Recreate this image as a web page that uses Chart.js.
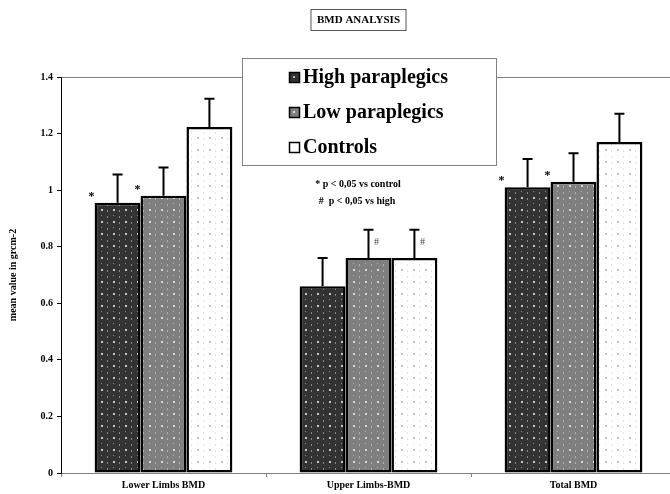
<!DOCTYPE html>
<html><head><meta charset="utf-8">
<script src="https://cdn.jsdelivr.net/npm/chart.js@4.4.1/dist/chart.umd.min.js"></script>
<style>html,body{margin:0;padding:0;background:#fff;overflow:hidden;width:670px;height:494px}#wrap{width:680px;height:494px}</style>
</head><body><div id="wrap"><canvas id="c" width="680" height="494"></canvas></div>
<script>
const categories = ['Lower Limbs BMD', 'Upper Limbs-BMD', 'Total BMD'];
const seriesNames = ['High paraplegics', 'Low paraplegics', 'Controls'];
const highValues = [0.955, 0.66, 1.01];
const lowValues = [0.98, 0.76, 1.03];
const controlValues = [1.223, 0.76, 1.17];
const highErrors = [0.10, 0.10, 0.10];
const lowErrors = [0.10, 0.10, 0.10];
const controlErrors = [0.10, 0.10, 0.10];
const highMarks = ['*', '', '*'];
const lowMarks = ['*', '#', '*'];
const controlMarks = ['', '#', ''];
const yTicks = [0, 0.2, 0.4, 0.6, 0.8, 1, 1.2, 1.4];
const titleText = 'BMD ANALYSIS';
const yTitle = 'mean value in grcm-2';
const noteLines = ['* p < 0,05 vs control', '#  p < 0,05 vs high'];

const SERIF = '"Liberation Serif", "DejaVu Serif", serif';

function makePattern(bg, dot, dash) {
  const c = document.createElement('canvas');
  c.width = 12; c.height = 12;
  const g = c.getContext('2d');
  g.fillStyle = bg; g.fillRect(0, 0, 12, 12);
  g.fillStyle = dot;
  g.fillRect(5, 5, 2, 2);
  g.fillStyle = dash;
  g.fillRect(11, 0, 1, 2);
  g.fillRect(11, 6, 1, 2);
  g.fillRect(5, 11, 1, 1);
  return g.createPattern(c, 'repeat');
}
const ctx0 = document.getElementById('c').getContext('2d');
const fills = [
  makePattern('#333333', '#c8c8c8', '#8a8a8a'),
  makePattern('#7f7f7f', '#d8d8d8', '#b0b0b0'),
  makePattern('#ffffff', '#c4c4c4', '#e4e4e4')
];
const swatchFills = ['#333333', '#808080', '#ffffff'];

const values = [highValues, lowValues, controlValues];
const errors = [highErrors, lowErrors, controlErrors];
const marks = [highMarks, lowMarks, controlMarks];

const extras = {
  id: 'extras',
  afterDatasetsDraw(chart) {
    const g = chart.ctx;
    const ys = chart.scales.y;
    g.save();
    chart.data.datasets.forEach((ds, di) => {
      const meta = chart.getDatasetMeta(di);
      meta.data.forEach((bar, i) => {
        const v = values[di][i];
        const top = ys.getPixelForValue(v + errors[di][i]);
        g.strokeStyle = '#000'; g.lineWidth = 2;
        g.beginPath();
        g.moveTo(bar.x, bar.y); g.lineTo(bar.x, top);
        g.moveTo(bar.x - 5, top); g.lineTo(bar.x + 5, top);
        g.stroke();
        const m = marks[di][i];
        if (m === '*') {
          g.fillStyle = '#000';
          g.font = 'bold 12px ' + SERIF;
          g.textAlign = 'center'; g.textBaseline = 'middle';
          g.fillText('*', bar.x - bar.width / 2 - 3, bar.y - 6);
        } else if (m === '#') {
          g.fillStyle = '#444';
          g.font = '10px ' + SERIF;
          g.textAlign = 'center'; g.textBaseline = 'middle';
          g.fillText('#', bar.x + 8, bar.y - 16);
        }
      });
    });
    g.restore();
  },
  afterDraw(chart) {
    const g = chart.ctx;
    g.save();
    g.font = 'bold 11px ' + SERIF;
    g.fillStyle = '#000';
    g.textAlign = 'center'; g.textBaseline = 'middle';
    const tw = g.measureText(titleText).width;
    g.strokeStyle = '#555'; g.lineWidth = 1;
    g.strokeRect(358.5 - tw / 2 - 6, 9.5, tw + 12, 21);
    g.fillText(titleText, 358.5, 20.5);
    g.save();
    g.translate(13, 275);
    g.rotate(-Math.PI / 2);
    g.font = 'bold 10px ' + SERIF;
    g.fillText(yTitle, 0, 0);
    g.restore();
    g.fillStyle = '#fff';
    g.fillRect(242, 58, 254, 107);
    g.strokeStyle = '#808080'; g.lineWidth = 1;
    g.strokeRect(242.5, 58.5, 254, 107);
    g.font = 'bold 20px ' + SERIF;
    g.textAlign = 'left'; g.textBaseline = 'middle';
    seriesNames.forEach((name, i) => {
      const y = 77 + i * 35;
      g.fillStyle = swatchFills[i];
      g.fillRect(289, y - 5, 11, 11);
      if (i < 2) {
        g.fillStyle = i === 0 ? '#bbb' : '#ddd';
        g.fillRect(293, y - 1, 2, 2);
      }
      g.strokeStyle = '#000'; g.lineWidth = 1.5;
      g.strokeRect(289.5, y - 4.5, 10, 10);
      g.fillStyle = '#000';
      g.fillText(name, 303, y + 1);
    });
    g.font = 'bold 10px ' + SERIF;
    g.textAlign = 'center';
    g.fillText(noteLines[0], 358, 184);
    g.fillText(noteLines[1], 357, 201);
    g.restore();
  }
};

new Chart(ctx0, {
  type: 'bar',
  data: {
    labels: categories,
    datasets: seriesNames.map((n, i) => ({
      label: n,
      data: values[i],
      backgroundColor: fills[i],
      borderColor: '#000',
      borderWidth: 2.5,
      borderSkipped: false,
      categoryPercentage: 0.672,
      barPercentage: 1.0
    }))
  },
  options: {
    responsive: false,
    animation: false,
    events: [],
    layout: { padding: { top: 77, left: 0, right: 4, bottom: 0 } },
    plugins: { legend: { display: false }, title: { display: false }, tooltip: { enabled: false } },
    scales: {
      x: {
        offset: true,
        grid: { offset: true, drawOnChartArea: false, tickLength: 4, color: '#808080', tickColor: '#808080' },
        border: { color: '#808080', width: 1 },
        ticks: { color: '#000', font: { family: SERIF, size: 10, weight: 'bold' }, padding: 2 },
        afterFit(s) { s.height = 21; }
      },
      y: {
        min: 0, max: 1.4,
        afterBuildTicks(s) { s.ticks = yTicks.map(v => ({ value: v })); },
        grid: {
          color: c => (c.tick && c.tick.value === 1.4) ? '#808080' : 'rgba(0,0,0,0)',
          tickColor: '#000', tickLength: 4, lineWidth: 1
        },
        border: { color: '#000', width: 1 },
        ticks: {
          color: '#000', font: { family: SERIF, size: 10, weight: 'bold' }, padding: 4,
          callback: v => String(v)
        },
        afterFit(s) { s.width = 61; }
      }
    }
  },
  plugins: [extras]
});
</script></body></html>
